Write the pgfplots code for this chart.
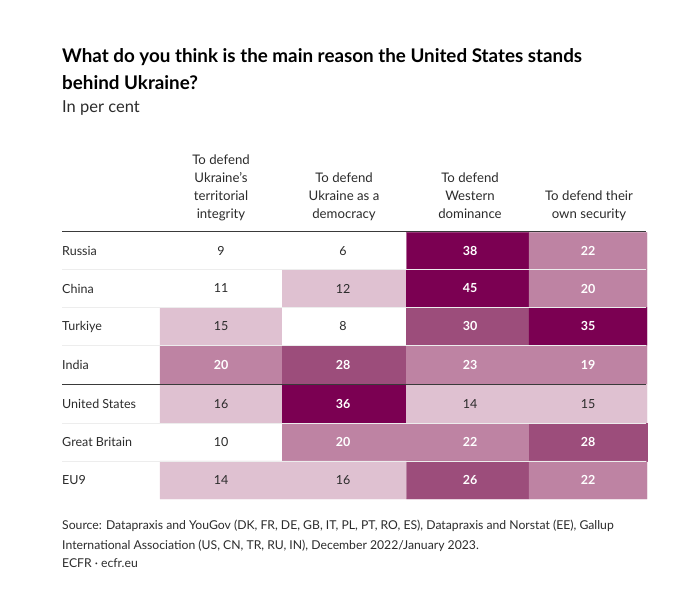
\documentclass[border=0pt]{standalone}
\usepackage{fontspec}
\setmainfont{Lato}
\usepackage{pgfplots}
\pgfplotsset{compat=1.18}
\usepackage{pgfplotstable}
\definecolor{cA}{HTML}{DFC1D1}
\definecolor{cB}{HTML}{BE83A3}
\definecolor{cC}{HTML}{9C4D7B}
\definecolor{cD}{HTML}{7B0052}
\definecolor{txt}{HTML}{2B2B2B}
\definecolor{rule}{HTML}{3A3A3A}
\definecolor{sep}{HTML}{EDEDED}

% x = column centre, y = row centre (pixels from top), v = per cent
\pgfplotstableread{
x   y     v
221 251   9
343 251   6
470 251   38
588 251   22
221 288.5 11
343 288.5 12
470 288.5 45
588 288.5 20
221 326   15
343 326   8
470 326   30
588 326   35
221 364.5 20
343 364.5 28
470 364.5 23
588 364.5 19
221 404   16
343 404   36
470 404   14
588 404   15
221 442   10
343 442   20
470 442   22
588 442   28
221 480   14
343 480   16
470 480   26
588 480   22
}\cells

\newcommand{\bodyfont}{\fontsize{12.5bp}{15bp}\selectfont}
\newcommand{\headfont}{\fontsize{13.2bp}{15bp}\selectfont}
\begin{document}
\begin{tikzpicture}
\begin{axis}[
  scale only axis, width=700bp, height=596bp,
  xmin=0, xmax=700, ymin=0, ymax=596, y dir=reverse,
  hide axis, clip=false,
  /pgf/number format/assume math mode=true,
  colormap={ecfr}{color(0pt)=(white) color(12pt)=(cA) color(18pt)=(cB) color(25pt)=(cC) color(33pt)=(cD) color(46pt)=(cD)},
  colormap access=piecewise constant,
  point meta min=0, point meta max=46,
]
% bounding frame (invisible)
\addplot[draw=none, forget plot] coordinates {(0,0) (700,596)};

% heat-map cells
\addplot[matrix plot*, mesh/cols=4, mesh/rows=7, point meta=explicit, draw=none]
  table[x=x, y=y, meta=v] {\cells};

% faint row separators
\addplot[draw=sep, line width=0.9bp] coordinates {(62,269.5) (646,269.5)};
\addplot[draw=sep, line width=0.9bp] coordinates {(62,307) (646,307)};
\addplot[draw=sep, line width=0.9bp] coordinates {(62,345) (646,345)};
\addplot[draw=sep, line width=0.9bp] coordinates {(62,423) (646,423)};
\addplot[draw=sep, line width=0.9bp] coordinates {(62,461) (646,461)};

% rules
\addplot[draw=rule, line width=1.6bp] coordinates {(62,231.5) (646,231.5)};
\addplot[draw=rule, line width=1.2bp] coordinates {(62,384.5) (646,384.5)};

% values: dark text
\addplot[only marks, mark=none, point meta=explicit,
  restrict expr to domain={\thisrow{v}}{0:17.5},
  nodes near coords,
  every node near coord/.append style={anchor=center, text=txt, font=\bodyfont}]
  table[x=x, y=y, meta=v] {\cells};
% values: white text
\addplot[only marks, mark=none, point meta=explicit,
  restrict expr to domain={\thisrow{v}}{17.5:100},
  nodes near coords,
  every node near coord/.append style={anchor=center, text=white, font=\bodyfont\bfseries}]
  table[x=x, y=y, meta=v] {\cells};

% title
\node[anchor=base west, inner sep=0pt, text=black, font=\fontsize{18.8bp}{22bp}\selectfont\bfseries] at (axis cs:62,63) {What do you think is the main reason the United States stands};
\node[anchor=base west, inner sep=0pt, text=black, font=\fontsize{18.8bp}{22bp}\selectfont\bfseries] at (axis cs:62,89) {behind Ukraine?};
\node[anchor=base west, inner sep=0pt, text=txt, font=\fontsize{16.5bp}{19bp}\selectfont] at (axis cs:62,112) {In per cent};

% column headers
\node[anchor=base, text=txt, font=\headfont] at (axis cs:221,164.5) {To defend};
\node[anchor=base, text=txt, font=\headfont] at (axis cs:221,182.5) {Ukraine’s};
\node[anchor=base, text=txt, font=\headfont] at (axis cs:221,200.5) {territorial};
\node[anchor=base, text=txt, font=\headfont] at (axis cs:221,218.5) {integrity};
\node[anchor=base, text=txt, font=\headfont] at (axis cs:344,182.5) {To defend};
\node[anchor=base, text=txt, font=\headfont] at (axis cs:344,200.5) {Ukraine as a};
\node[anchor=base, text=txt, font=\headfont] at (axis cs:344,218.5) {democracy};
\node[anchor=base, text=txt, font=\headfont] at (axis cs:470,182.5) {To defend};
\node[anchor=base, text=txt, font=\headfont] at (axis cs:470,200.5) {Western};
\node[anchor=base, text=txt, font=\headfont] at (axis cs:470,218.5) {dominance};
\node[anchor=base, text=txt, font=\headfont] at (axis cs:589,200.5) {To defend their};
\node[anchor=base, text=txt, font=\headfont] at (axis cs:589,218.5) {own security};

% row labels
\node[anchor=base west, inner sep=0pt, text=txt, font=\bodyfont] at (axis cs:62,255.5) {Russia};
\node[anchor=base west, inner sep=0pt, text=txt, font=\bodyfont] at (axis cs:62,293) {China};
\node[anchor=base west, inner sep=0pt, text=txt, font=\bodyfont] at (axis cs:62,330.5) {Turkiye};
\node[anchor=base west, inner sep=0pt, text=txt, font=\bodyfont] at (axis cs:62,369) {India};
\node[anchor=base west, inner sep=0pt, text=txt, font=\bodyfont] at (axis cs:62,408.5) {United States};
\node[anchor=base west, inner sep=0pt, text=txt, font=\bodyfont] at (axis cs:62,446.5) {Great Britain};
\node[anchor=base west, inner sep=0pt, text=txt, font=\bodyfont] at (axis cs:62,484.5) {EU9};

% source
\node[anchor=base west, inner sep=0pt, text=txt, font=\fontsize{12.2bp}{14bp}\selectfont] at (axis cs:62,529.5) {Source: Datapraxis and YouGov (DK, FR, DE, GB, IT, PL, PT, RO, ES), Datapraxis and Norstat (EE), Gallup};
\node[anchor=base west, inner sep=0pt, text=txt, font=\fontsize{12.2bp}{14bp}\selectfont] at (axis cs:62,549) {International Association (US, CN, TR, RU, IN), December 2022/January 2023.};
\node[anchor=base west, inner sep=0pt, text=txt, font=\fontsize{12.2bp}{14bp}\selectfont] at (axis cs:62,567.5) {ECFR · ecfr.eu};
\end{axis}
\end{tikzpicture}
\end{document}
